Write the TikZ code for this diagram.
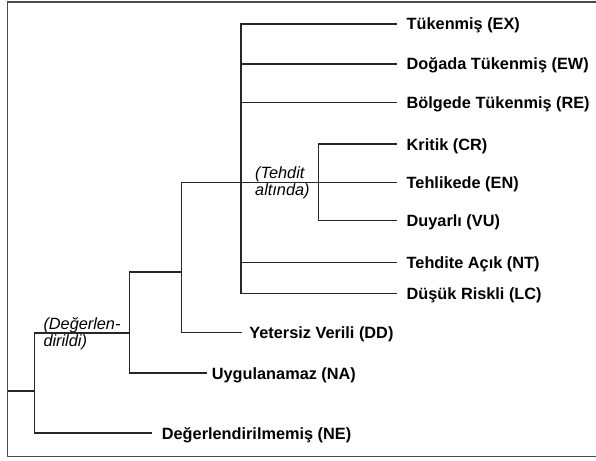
\documentclass[tikz,border=0pt]{standalone}
\usepackage{fontspec}
\setmainfont{Liberation Sans}
\tikzset{
  leaf/.style={anchor=west, inner ysep=0pt, inner xsep=10pt, text height=12pt, text depth=0pt,
    font=\bfseries\fontsize{16.3}{18}\selectfont},
  grouplab/.style={anchor=north west, inner sep=0pt, align=left,
    font=\itshape\fontsize{16.3}{17.5}\selectfont},
  branch/.style={line width=1.4pt, black!85},
  frame/.style={line width=1.6pt, black!70}
}
\begin{document}
\begin{tikzpicture}[x=1pt, y=-1pt]
\useasboundingbox (0,0) rectangle (596,460);
\draw[frame] (600,2) -- (7.5,2) -- (7.5,456.5) -- (600,456.5);

% junctions
\coordinate (root) at (7.5,391);
\coordinate (j0) at (34.5,391);
\coordinate (j1) at (129.5,333);
\coordinate (j2) at (181.5,272);
\coordinate (j3) at (241,182.5);
\coordinate (j4) at (318.5,182.5);

% leaves
\node[leaf] (EX) at (396.5,24) {Tükenmiş (EX)};
\node[leaf] (EW) at (396.5,64) {Doğada Tükenmiş (EW)};
\node[leaf] (RE) at (396.5,102.5) {Bölgede Tükenmiş (RE)};
\node[leaf] (CR) at (396.5,144) {Kritik (CR)};
\node[leaf] (EN) at (396.5,182.5) {Tehlikede (EN)};
\node[leaf] (VU) at (396.5,220.5) {Duyarlı (VU)};
\node[leaf] (NT) at (396.5,262.5) {Tehdite Açık (NT)};
\node[leaf] (LC) at (396.5,293.5) {Düşük Riskli (LC)};
\node[leaf, inner xsep=7.5pt] (DD) at (241.7,332.5) {Yetersiz Verili (DD)};
\node[leaf, inner xsep=5pt] (NA) at (206.7,373) {Uygulanamaz (NA)};
\node[leaf, inner xsep=10pt] (NE) at (151.7,433) {Değerlendirilmemiş (NE)};

% group labels
\node[grouplab] (thr) at (255,166.4) {(Tehdit\\altında)};
\node[grouplab] (ass) at (43.3,317.1) {(Değerlen-\\dirildi)};

% branches
\draw[branch] (root) -- (j0);
\draw[branch] (j1) -| (j0) |- (NE.west);
\draw[branch] (j2) -| (j1) |- (NA.west);
\draw[branch] (j3) -| (j2) |- (DD.west);
\draw[branch] (EX.west) -| (j3) |- (LC.west);
\draw[branch] (j3) |- (EW.west);
\draw[branch] (j3) |- (RE.west);
\draw[branch] (j3) |- (NT.west);
\draw[branch] (j3) -- (j4);
\draw[branch] (CR.west) -| (j4) |- (VU.west);
\draw[branch] (j4) -- (EN.west);
\end{tikzpicture}
\end{document}
